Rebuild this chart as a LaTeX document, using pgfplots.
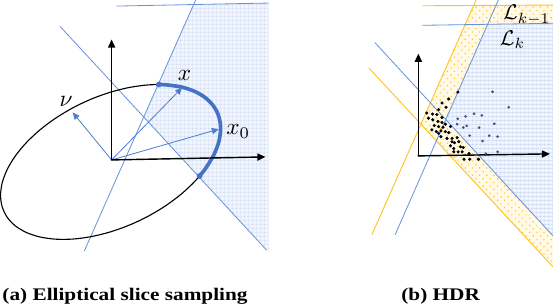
\documentclass[border=0pt]{standalone}
\usepackage{pgfplots}
\pgfplotsset{compat=1.18}
\usepackage{fontspec}
\usetikzlibrary{patterns.meta, arrows.meta}
\newfontfamily\capfont[FakeStretch=1.2]{Liberation Serif}
\definecolor{lblue}{RGB}{105,145,218}
\definecolor{ablue}{RGB}{80,125,205}
\definecolor{arcblue}{RGB}{68,114,196}
\definecolor{gridbg}{RGB}{240,244,252}
\definecolor{gridln}{RGB}{196,212,240}
\definecolor{yel}{RGB}{255,195,30}
\definecolor{yelbg}{RGB}{255,249,230}
\definecolor{dotblue}{RGB}{60,80,125}
\begin{document}
\begin{tikzpicture}
\begin{axis}[
  width=553pt, height=314pt, scale only axis,
  xmin=0, xmax=553, ymin=0, ymax=314, y dir=reverse,
  hide axis, clip=true]

% ---------- panel (a) shaded region
\addplot[draw=none, fill=gridbg] coordinates {(148.7,115.6) (198,4.5) (272,3) (272,249.1)} -- cycle;
\addplot[draw=none, pattern={Hatch[angle=0, distance=4pt, line width=0.35pt]}, pattern color=gridln] coordinates {(148.7,115.6) (198,4.5) (272,3) (272,249.1)} -- cycle;

% ---------- panel (a) lines
\addplot[lblue, line width=0.8pt] coordinates {(66,26) (270,247)};
\addplot[lblue, line width=0.8pt] coordinates {(90,248) (200,0)};
\addplot[lblue, line width=0.8pt] coordinates {(122,6) (272,3)};

% ---------- ellipse
\addplot[black, line width=1.1pt, smooth] coordinates {
(224.7,127.0) (223.05,139.48) (218.15,152.59) (210.13,165.92) (199.27,179.07)
(185.87,191.64) (170.35,203.25) (153.18,213.55) (134.87,222.22) (116,229)
(97.13,233.68) (78.82,236.13) (61.65,236.25) (46.13,234.06) (32.73,229.63)
(21.87,223.08) (13.85,214.61) (8.95,204.48) (7.3,193) (8.95,180.52)
(13.85,167.41) (21.87,154.08) (32.73,140.93) (46.13,128.36) (61.65,116.75)
(78.82,106.45) (97.13,97.78) (116,91) (134.87,86.32) (153.18,83.87)
(170.35,83.75) (185.87,85.94) (199.27,90.37) (210.13,96.92) (218.15,105.39)
(223.05,115.52) (224.7,127.0)};

% ---------- thick arc
\addplot[arcblue, line width=3.6pt, smooth] coordinates {
(163.65,83.5) (170.35,83.75) (185.87,85.94) (199.27,90.37) (210.13,96.92)
(218.15,105.39) (223.05,115.52) (224.7,127.0) (223.05,139.48) (218.15,152.59)
(210.13,165.92) (203.9,173.9)};
\addplot[only marks, mark=*, mark size=2.6pt, arcblue] coordinates {(163.65,83.5) (203.9,173.9)};

% ---------- vectors
\addplot[ablue, line width=0.8pt, -{Triangle[length=7pt,width=6pt]}] coordinates {(117,158) (78.5,111)};
\addplot[ablue, line width=0.8pt, -{Triangle[length=7pt,width=6pt]}] coordinates {(117,158) (186.7,86.5)};
\addplot[ablue, line width=0.8pt, -{Triangle[length=7pt,width=6pt]}] coordinates {(117,158) (223,127.5)};

% ---------- axes (a)
\addplot[black, line width=1.4pt, -{Triangle[length=8pt,width=7pt]}] coordinates {(117,158) (117,39)};
\addplot[black, line width=1.4pt, -{Triangle[length=8pt,width=7pt]}] coordinates {(116.3,158) (269,155)};

% ---------- labels (a)
\node at (axis cs:72,100) {\scalebox{2.3}{$\nu$}};
\node at (axis cs:189,75) {\scalebox{2.3}{$x$}};
\node at (axis cs:242,130) {\scalebox{2.3}{$x_0$}};

% ---------- panel (b) regions
\addplot[draw=none, fill=yelbg] coordinates {(474.4,6) (553,5) (553,263.6) (422.6,122.7)} -- cycle;
\addplot[draw=none, pattern={Dots[angle=45, distance=5pt, radius=0.8pt]}, pattern color=yel] coordinates {(474.4,6) (553,5) (553,263.6) (422.6,122.7)} -- cycle;
\addplot[draw=none, fill=gridbg] coordinates {(488.2,24.5) (553,23) (553,233) (447,118)} -- cycle;
\addplot[draw=none, pattern={Hatch[angle=0, distance=4pt, line width=0.35pt]}, pattern color=gridln] coordinates {(488.2,24.5) (553,23) (553,233) (447,118)} -- cycle;

% ---------- panel (b) lines
\addplot[yel, line width=0.9pt] coordinates {(424,5.7) (553,5)};
\addplot[yel, line width=0.9pt] coordinates {(374,232) (477,0)};
\addplot[yel, line width=0.9pt] coordinates {(371,67) (553,263.6)};
\addplot[lblue, line width=0.8pt] coordinates {(377,42) (553,233)};
\addplot[lblue, line width=0.8pt] coordinates {(397,232) (499,0)};
\addplot[lblue, line width=0.8pt] coordinates {(424,25) (553,23)};

% ---------- axes (b)
\addplot[black, line width=1.4pt, -{Triangle[length=8pt,width=7pt]}] coordinates {(420,154) (420,53)};
\addplot[black, line width=1.4pt, -{Triangle[length=8pt,width=7pt]}] coordinates {(419.3,154) (550,152)};

% ---------- samples
\addplot[only marks, mark=*, mark size=1.35pt, black] coordinates {
(459.0,91.0) (450.0,97.7) (443.3,101.7) (440.0,108.3) (447.3,106.0)
(434.0,112.7) (438.3,113.3) (443.3,116.0) (428.3,111.7) (430.0,116.7)
(434.3,118.3) (439.3,120.0) (443.3,121.0) (446.7,122.7) (435.7,124.0)
(440.0,125.0) (444.3,125.7) (433.3,128.3) (437.7,130.0) (442.3,129.3)
(446.7,130.0) (451.7,125.0) (450.0,131.0) (448.3,136.7) (442.3,135.0)
(453.3,136.7) (458.3,136.0) (460.0,140.0) (455.7,141.0) (461.7,145.0)
(451.7,144.0) (455.0,146.7) (464.3,145.7) (463.3,150.0) (455.0,150.0)
(459.3,150.0) (470.0,151.7) (465.0,157.3) (470.7,157.3) (479.3,157.3)
(440.0,131.7) (453.3,140.0)};
\addplot[only marks, mark=*, mark size=1.1pt, dotblue] coordinates {
(493.3,90.7) (509.3,106.0) (475.0,112.3) (482.7,114.0) (466.7,115.0)
(459.0,117.3) (458.3,122.7) (467.7,124.3) (464.3,126.0) (480.0,126.0)
(495.0,122.3) (470.7,134.0) (490.0,134.0) (498.3,135.0) (483.3,139.3)
(486.7,151.7) (498.3,150.0)};

% ---------- labels (b)
\node at (axis cs:527,15) {\scalebox{2.1}{$\mathcal{L}_{k-1}$}};
\node at (axis cs:513,39) {\scalebox{2.1}{$\mathcal{L}_{k}$}};

% ---------- captions
\node[anchor=base west, inner sep=0pt, font=\capfont\bfseries\fontsize{17.5}{20}\selectfont] at (axis cs:9,296.5) {(a) Elliptical slice sampling};
\node[anchor=base west, inner sep=0pt, font=\capfont\bfseries\fontsize{17.5}{20}\selectfont] at (axis cs:403,296.5) {(b) HDR};
\end{axis}
\end{tikzpicture}
\end{document}
